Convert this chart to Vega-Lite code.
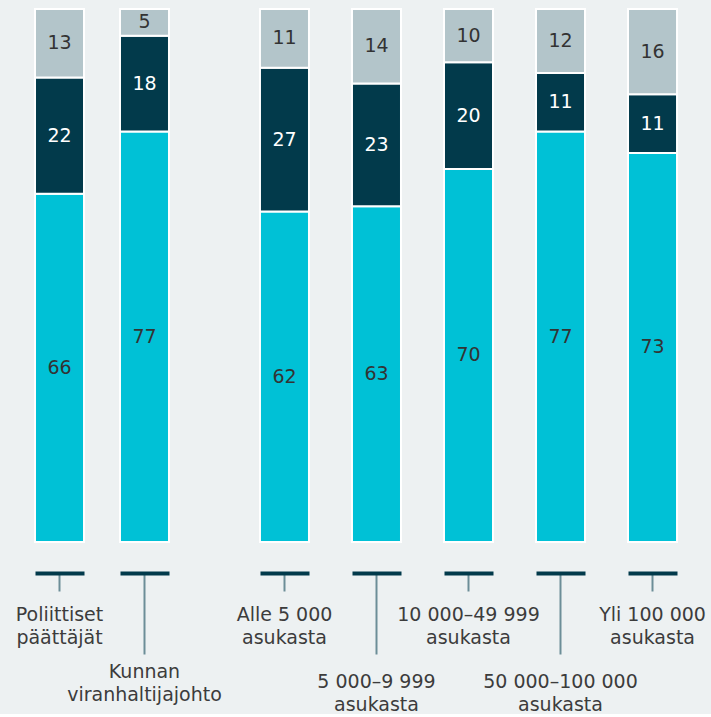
{
  "$schema": "https://vega.github.io/schema/vega-lite/v6.json",
  "background": "#EDF1F2",
  "padding": {"left": 0, "top": 8, "right": 0, "bottom": 0},
  "bounds": "flush",
  "spacing": 20,
  "config": {"view": {"stroke": null}, "font": "DejaVu Sans"},
  "datasets": {
    "d": [
      {"osa": 1, "ryhma": "Poliittiset päättäjät", "luokka": "A", "jarj": 1, "arvo": 66},
      {"osa": 1, "ryhma": "Poliittiset päättäjät", "luokka": "B", "jarj": 2, "arvo": 22},
      {"osa": 1, "ryhma": "Poliittiset päättäjät", "luokka": "C", "jarj": 3, "arvo": 13},
      {"osa": 1, "ryhma": "Kunnan viranhaltijajohto", "luokka": "A", "jarj": 1, "arvo": 77},
      {"osa": 1, "ryhma": "Kunnan viranhaltijajohto", "luokka": "B", "jarj": 2, "arvo": 18},
      {"osa": 1, "ryhma": "Kunnan viranhaltijajohto", "luokka": "C", "jarj": 3, "arvo": 5},
      {"osa": 2, "ryhma": "Alle 5 000 asukasta", "luokka": "A", "jarj": 1, "arvo": 62},
      {"osa": 2, "ryhma": "Alle 5 000 asukasta", "luokka": "B", "jarj": 2, "arvo": 27},
      {"osa": 2, "ryhma": "Alle 5 000 asukasta", "luokka": "C", "jarj": 3, "arvo": 11},
      {"osa": 2, "ryhma": "5 000–9 999 asukasta", "luokka": "A", "jarj": 1, "arvo": 63},
      {"osa": 2, "ryhma": "5 000–9 999 asukasta", "luokka": "B", "jarj": 2, "arvo": 23},
      {"osa": 2, "ryhma": "5 000–9 999 asukasta", "luokka": "C", "jarj": 3, "arvo": 14},
      {"osa": 2, "ryhma": "10 000–49 999 asukasta", "luokka": "A", "jarj": 1, "arvo": 70},
      {"osa": 2, "ryhma": "10 000–49 999 asukasta", "luokka": "B", "jarj": 2, "arvo": 20},
      {"osa": 2, "ryhma": "10 000–49 999 asukasta", "luokka": "C", "jarj": 3, "arvo": 10},
      {"osa": 2, "ryhma": "50 000–100 000 asukasta", "luokka": "A", "jarj": 1, "arvo": 77},
      {"osa": 2, "ryhma": "50 000–100 000 asukasta", "luokka": "B", "jarj": 2, "arvo": 11},
      {"osa": 2, "ryhma": "50 000–100 000 asukasta", "luokka": "C", "jarj": 3, "arvo": 12},
      {"osa": 2, "ryhma": "Yli 100 000 asukasta", "luokka": "A", "jarj": 1, "arvo": 73},
      {"osa": 2, "ryhma": "Yli 100 000 asukasta", "luokka": "B", "jarj": 2, "arvo": 11},
      {"osa": 2, "ryhma": "Yli 100 000 asukasta", "luokka": "C", "jarj": 3, "arvo": 16}
    ]
  },
  "hconcat": [
    {
      "width": 204,
      "height": 533,
      "data": {"name": "d"},
      "transform": [
        {"filter": "datum.osa == 1"},
        {"stack": "arvo", "groupby": ["ryhma"], "sort": [{"field": "jarj", "order": "ascending"}], "as": ["y0", "y1"], "offset": "normalize"},
        {"calculate": "(datum.y0 + datum.y1) / 2", "as": "ymid"}
      ],
      "encoding": {
        "x": {
          "field": "ryhma", "type": "nominal",
          "sort": ["Poliittiset päättäjät", "Kunnan viranhaltijajohto"],
          "scale": {"paddingInner": 0.4235, "paddingOuter": 0.412},
          "axis": {
            "title": null, "orient": "bottom", "offset": 31,
            "domainColor": "#023A4B", "domainWidth": 4, "domainDash": [49, 36], "domainDashOffset": 50,
            "tickColor": "#6C8E98", "tickWidth": 2,
            "tickSize": {"condition": {"test": "datum.value == 'Kunnan viranhaltijajohto'", "value": 81}, "value": 18},
            "labelPadding": {"condition": {"test": "datum.value == 'Kunnan viranhaltijajohto'", "value": 8}, "value": 14},
            "labelExpr": "[slice(datum.label, 0, lastindexof(datum.label, ' ')), slice(datum.label, lastindexof(datum.label, ' ') + 1)]",
            "labelFontSize": 19, "labelColor": "#3C3C3C", "labelBaseline": "top", "labelLineHeight": 23,
            "labelAngle": 0, "labelOverlap": false, "labelLimit": 0, "labelFont": "DejaVu Sans"
          }
        }
      },
      "layer": [
        {
          "mark": {"type": "bar", "stroke": "white", "strokeWidth": 2},
          "encoding": {
            "y": {"field": "y0", "type": "quantitative", "scale": {"domain": [0, 1]}, "axis": null},
            "y2": {"field": "y1"},
            "color": {"field": "luokka", "type": "nominal", "scale": {"domain": ["A", "B", "C"], "range": ["#00C1D6", "#023A4B", "#B3C5CA"]}, "legend": null}
          }
        },
        {
          "mark": {"type": "text", "fontSize": 19, "baseline": "middle", "align": "center", "font": "DejaVu Sans"},
          "encoding": {
            "y": {"field": "ymid", "type": "quantitative"},
            "text": {"field": "arvo", "type": "quantitative"},
            "color": {"condition": {"test": "datum.luokka == 'B'", "value": "white"}, "value": "#333333"}
          }
        }
      ]
    },
    {
      "width": 489,
      "height": 533,
      "data": {"name": "d"},
      "transform": [
        {"filter": "datum.osa == 2"},
        {"stack": "arvo", "groupby": ["ryhma"], "sort": [{"field": "jarj", "order": "ascending"}], "as": ["y0", "y1"], "offset": "normalize"},
        {"calculate": "(datum.y0 + datum.y1) / 2", "as": "ymid"}
      ],
      "encoding": {
        "x": {
          "field": "ryhma", "type": "nominal",
          "sort": ["Alle 5 000 asukasta", "5 000–9 999 asukasta", "10 000–49 999 asukasta", "50 000–100 000 asukasta", "Yli 100 000 asukasta"],
          "scale": {"paddingInner": 0.4674, "paddingOuter": 0.391},
          "axis": {
            "title": null, "orient": "bottom", "offset": 31,
            "domainColor": "#023A4B", "domainWidth": 4, "domainDash": [49, 43], "domainDashOffset": 56,
            "tickColor": "#6C8E98", "tickWidth": 2,
            "tickSize": {"condition": {"test": "indexof(['5 000–9 999 asukasta','50 000–100 000 asukasta'], datum.value) >= 0", "value": 81}, "value": 18},
            "labelPadding": {"condition": {"test": "indexof(['5 000–9 999 asukasta','50 000–100 000 asukasta'], datum.value) >= 0", "value": 18}, "value": 14},
            "labelExpr": "[slice(datum.label, 0, lastindexof(datum.label, ' ')), slice(datum.label, lastindexof(datum.label, ' ') + 1)]",
            "labelFontSize": 19, "labelColor": "#3C3C3C", "labelBaseline": "top", "labelLineHeight": 23,
            "labelAngle": 0, "labelOverlap": false, "labelLimit": 0, "labelFont": "DejaVu Sans"
          }
        }
      },
      "layer": [
        {
          "mark": {"type": "bar", "stroke": "white", "strokeWidth": 2},
          "encoding": {
            "y": {"field": "y0", "type": "quantitative", "scale": {"domain": [0, 1]}, "axis": null},
            "y2": {"field": "y1"},
            "color": {"field": "luokka", "type": "nominal", "scale": {"domain": ["A", "B", "C"], "range": ["#00C1D6", "#023A4B", "#B3C5CA"]}, "legend": null}
          }
        },
        {
          "mark": {"type": "text", "fontSize": 19, "baseline": "middle", "align": "center", "font": "DejaVu Sans"},
          "encoding": {
            "y": {"field": "ymid", "type": "quantitative"},
            "text": {"field": "arvo", "type": "quantitative"},
            "color": {"condition": {"test": "datum.luokka == 'B'", "value": "white"}, "value": "#333333"}
          }
        }
      ]
    }
  ]
}
